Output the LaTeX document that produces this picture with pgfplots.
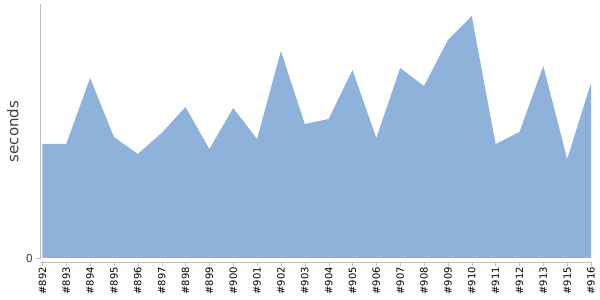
\documentclass[border=0pt]{standalone}
\usepackage{pgfplots}
\pgfplotsset{compat=1.18}
\usepackage{fontspec}
\setmainfont{DejaVu Sans}
\definecolor{areablue}{RGB}{143,178,218}
\definecolor{axgray}{RGB}{190,190,190}
\begin{document}
\begin{tikzpicture}[x=1pt,y=1pt]
\path[use as bounding box] (0,0) rectangle (600,300);
\begin{axis}[
  at={(40pt,41pt)}, anchor=south west,
  scale only axis, width=551pt, height=255pt,
  xmin=-0.1, xmax=23, ymin=-1, ymax=254,
  axis x line=bottom, axis y line=left,
  axis x line shift=3pt,
  axis line style={draw=axgray, -},
  xtick=data,
  xticklabels={\#892,\#893,\#894,\#895,\#896,\#897,\#898,\#899,\#900,\#901,\#902,\#903,\#904,\#905,\#906,\#907,\#908,\#909,\#910,\#911,\#912,\#913,\#915,\#916},
  xticklabel style={rotate=90, anchor=east, font=\fontsize{10}{11}\selectfont, inner sep=1.5pt},
  ytick={0}, yticklabels={0},
  yticklabel style={font=\fontsize{11}{12}\selectfont, text=black!75},
  tick style={draw=axgray},
  tick align=outside, major tick length=3.5pt,
  ylabel={seconds},
  ylabel style={font=\fontsize{15}{16}\selectfont, text=black!75, at={(axis description cs:0,0.5)}, anchor=south, yshift=18pt},
  clip=false,
]
\addplot[fill=areablue, draw=none] coordinates {
(0,114) (1,114) (2,180) (3,121) (4,104) (5,125) (6,151) (7,109) (8,150) (9,119) (10,207) (11,134) (12,139) (13,188) (14,120) (15,190) (16,172) (17,218) (18,242) (19,114) (20,126) (21,192) (22,99) (23,175)
} \closedcycle;
\end{axis}
\end{tikzpicture}
\end{document}
